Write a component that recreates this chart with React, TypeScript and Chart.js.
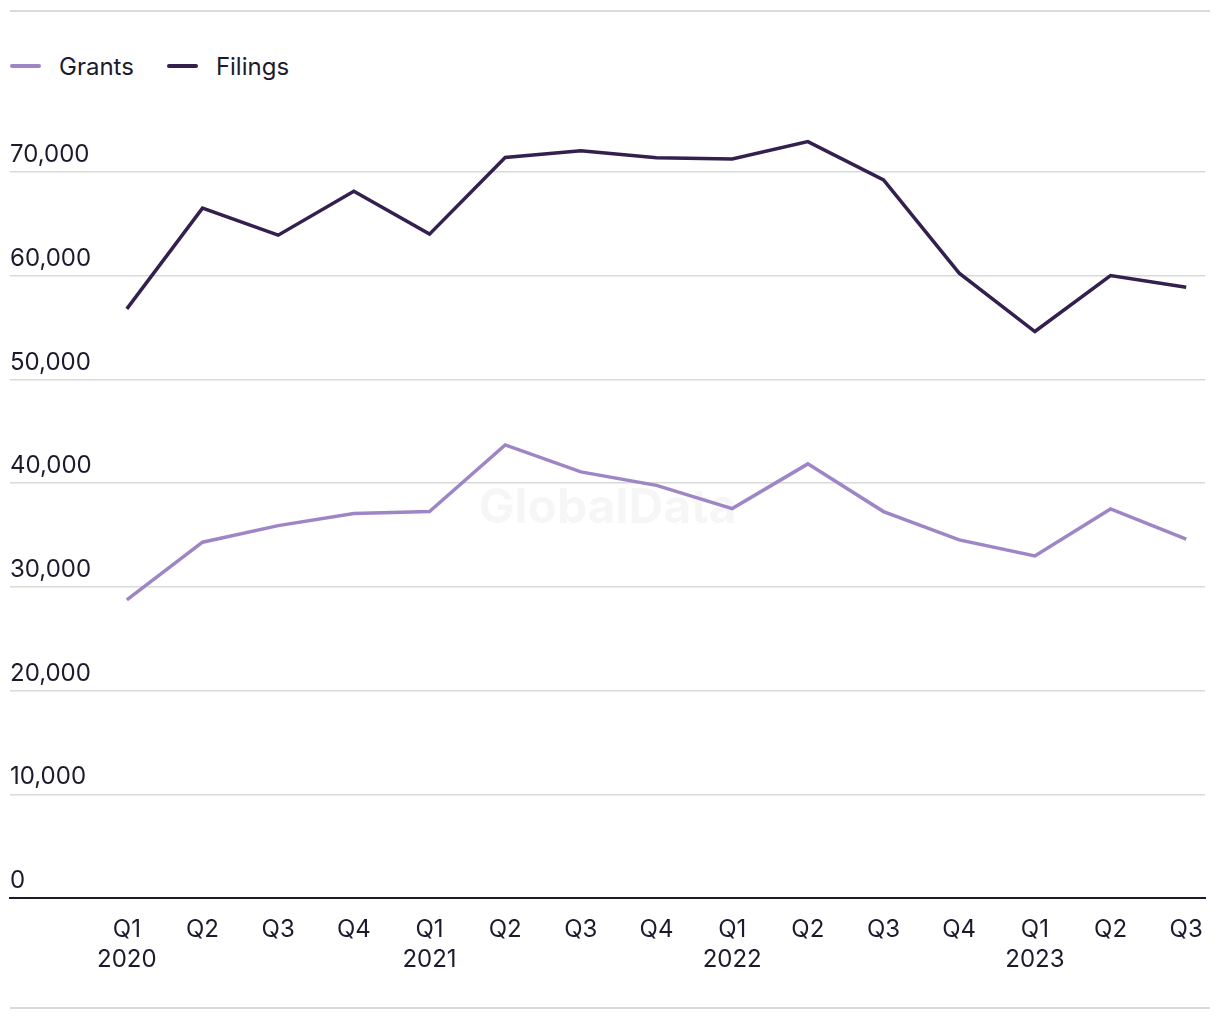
import React, { useEffect, useRef } from "react";
import { Chart, registerables } from "chart.js";

Chart.register(...registerables);

const quarters = ["Q1", "Q2", "Q3", "Q4", "Q1", "Q2", "Q3", "Q4", "Q1", "Q2", "Q3", "Q4", "Q1", "Q2", "Q3"];
const years = ["2020", "", "", "", "2021", "", "", "", "2022", "", "", "", "2023", "", ""];
const grants = [28730, 34300, 35900, 37060, 37250, 43680, 41080, 39780, 37540, 41850, 37250, 34520, 32980, 37510, 34590];
const filings = [56790, 66500, 63900, 68140, 64000, 71380, 72030, 71360, 71250, 72920, 69230, 60230, 54610, 60010, 58880];
const yTicks = [0, 10000, 20000, 30000, 40000, 50000, 60000, 70000];

const FONT = "Inter, 'Noto Sans', sans-serif";
const TEXT = "#1c1a2c";
const GRANTS_COLOR = "#9d85c6";
const FILINGS_COLOR = "#33204e";

const watermark = {
  id: "watermark",
  beforeDatasetsDraw(chart: any) {
    const { ctx, chartArea } = chart;
    ctx.save();
    ctx.font = `bold 48px ${FONT}`;
    ctx.fillStyle = "rgba(0,0,0,0.035)";
    ctx.textAlign = "center";
    ctx.textBaseline = "middle";
    ctx.fillText("GlobalData", (chartArea.left + chartArea.right) / 2, (chartArea.top + chartArea.bottom) / 2);
    ctx.restore();
  },
};

export default function App() {
  const ref = useRef<HTMLCanvasElement | null>(null);
  useEffect(() => {
    if (!ref.current) return;
    const chart = new Chart(ref.current, {
      type: "line",
      data: {
        datasets: [
          {
            label: "Grants",
            data: grants.map((v, i) => ({ x: i, y: v })),
            borderColor: GRANTS_COLOR,
            borderWidth: 3.5,
            pointRadius: 0,
            tension: 0,
          },
          {
            label: "Filings",
            data: filings.map((v, i) => ({ x: i, y: v })),
            borderColor: FILINGS_COLOR,
            borderWidth: 3.5,
            pointRadius: 0,
            tension: 0,
          },
        ],
      },
      options: {
        animation: false,
        responsive: false,
        maintainAspectRatio: false,
        layout: { padding: { left: 10, right: 13, top: 120, bottom: 20 } },
        plugins: { legend: { display: false }, tooltip: { enabled: false } },
        scales: {
          x: {
            type: "linear",
            min: -1.544,
            max: 14.25,
            grid: { display: false, drawTicks: false },
            border: { display: true, color: TEXT, width: 2 },
            afterBuildTicks: (scale: any) => {
              scale.ticks = quarters.map((_, i) => ({ value: i }));
            },
            afterFit: (scale: any) => {
              scale.height = 102;
            },
            ticks: {
              autoSkip: false,
              maxRotation: 0,
              padding: 17,
              color: TEXT,
              font: { family: FONT, size: 24, lineHeight: 1.25 },
              callback: (v: any) => {
                const i = Math.round(Number(v));
                return years[i] ? [quarters[i], years[i]] : quarters[i];
              },
            },
          },
          y: {
            min: 0,
            max: 75000,
            grid: { color: "#d9d9d9", lineWidth: 1.5, drawTicks: false },
            border: { display: false },
            afterBuildTicks: (scale: any) => {
              scale.ticks = yTicks.map((v) => ({ value: v }));
            },
            afterFit: (scale: any) => {
              scale.width = 0;
            },
            ticks: {
              mirror: true,
              padding: 0,
              labelOffset: -17,
              color: TEXT,
              font: { family: FONT, size: 24 },
              callback: (v: any) => Number(v).toLocaleString("en-US"),
            },
          },
        },
      },
      plugins: [watermark],
    });
    return () => chart.destroy();
  }, []);

  const legendItem = (label: string, color: string, ml: number) => (
    <div style={{ display: "flex", alignItems: "center", marginLeft: ml }}>
      <span style={{ display: "inline-block", width: 31, height: 4, borderRadius: 2, background: color, marginRight: 18 }} />
      <span style={{ fontFamily: FONT, fontSize: 24, color: TEXT }}>{label}</span>
    </div>
  );

  return (
    <div style={{ position: "absolute", left: 0, top: 0, width: 1220, height: 1020, background: "#fff" }}>
      <div style={{ position: "absolute", left: 10, top: 10, width: 1200, height: 2, background: "#dadada" }} />
      <div style={{ position: "absolute", left: 10, top: 1007, width: 1200, height: 2, background: "#dadada" }} />
      <div style={{ position: "absolute", left: 10, top: 50, height: 32, display: "flex", alignItems: "center" }}>
        {legendItem("Grants", GRANTS_COLOR, 0)}
        {legendItem("Filings", FILINGS_COLOR, 33)}
      </div>
      <canvas ref={ref} width={1220} height={1020} style={{ position: "absolute", left: 0, top: 0, width: 1220, height: 1020 }} />
    </div>
  );
}
